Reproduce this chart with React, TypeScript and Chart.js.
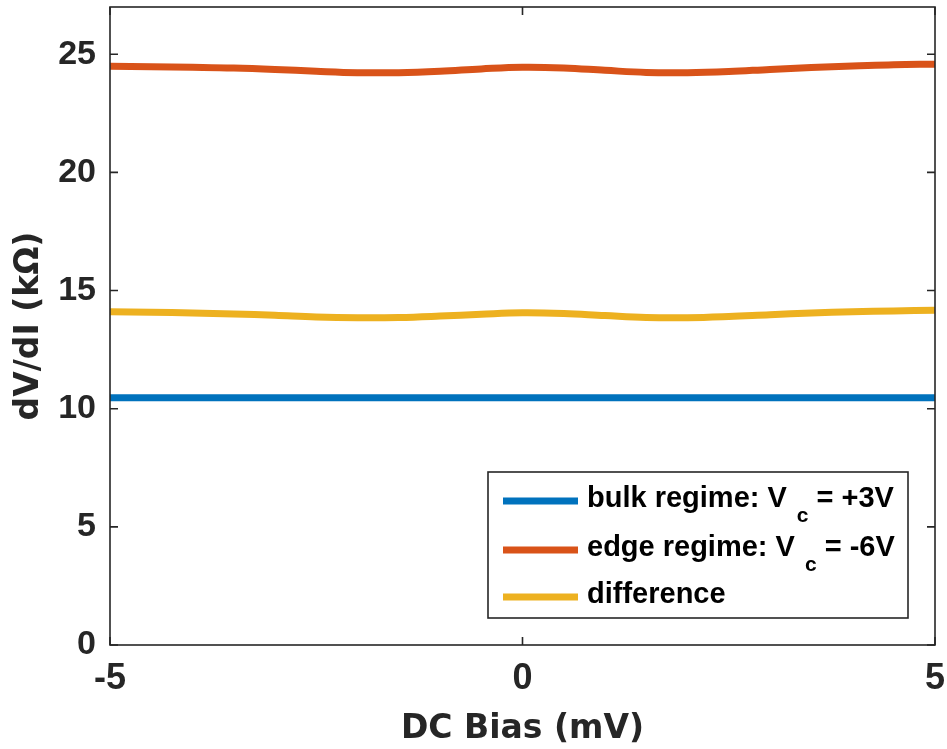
import React, { useEffect, useRef } from "react";
import { Chart, registerables } from "chart.js";

Chart.register(...registerables);

const biasMV = [-5, -4.5, -4, -3.5, -3, -2.5, -2, -1.5, -1, -0.5, 0, 0.5, 1, 1.5, 2, 2.5, 3, 3.5, 4, 4.5, 5];
const bulkK = [10.46, 10.46, 10.46, 10.46, 10.46, 10.46, 10.46, 10.46, 10.46, 10.46, 10.46, 10.46, 10.46, 10.46, 10.46, 10.46, 10.46, 10.46, 10.46, 10.46, 10.46];
const edgeK = [24.49, 24.47, 24.45, 24.42, 24.36, 24.28, 24.22, 24.22, 24.28, 24.38, 24.45, 24.42, 24.32, 24.23, 24.22, 24.27, 24.36, 24.44, 24.5, 24.56, 24.58];
const diffK = [14.1, 14.08, 14.05, 14.01, 13.95, 13.88, 13.85, 13.86, 13.92, 14.0, 14.06, 14.03, 13.94, 13.86, 13.85, 13.9, 13.98, 14.05, 14.1, 14.14, 14.17];

const seriesNames = ["bulk regime: V", "edge regime: V", "difference"];
const seriesSubs = ["c", "c", ""];
const seriesTails = [" = +3V", " = -6V", ""];
const seriesColors = ["#0072BD", "#D95319", "#EDB120"];

const xTicks = [-5, 0, 5];
const yTicks = [0, 5, 10, 15, 20, 25];

const AX = "#262626";
const TICK_FONT = "'Liberation Sans', Arial, sans-serif";
const TITLE_FONT = "'DejaVu Sans', 'Liberation Sans', sans-serif";

const zeroPad = (s: any) => {
  s.paddingTop = 0;
  s.paddingBottom = 0;
  s.paddingLeft = 0;
  s.paddingRight = 0;
};

const boxPlugin = {
  id: "matlabBox",
  afterDatasetsDraw(chart: any) {
    const { ctx, chartArea, scales } = chart;
    const { left, right, top, bottom } = chartArea;
    ctx.save();
    ctx.strokeStyle = AX;
    ctx.lineWidth = 1.6;
    ctx.strokeRect(left, top, right - left, bottom - top);
    const tl = 8;
    ctx.beginPath();
    for (const v of yTicks) {
      const y = scales.y.getPixelForValue(v);
      ctx.moveTo(left, y);
      ctx.lineTo(left + tl, y);
      ctx.moveTo(right, y);
      ctx.lineTo(right - tl, y);
    }
    for (const v of xTicks) {
      const x = scales.x.getPixelForValue(v);
      ctx.moveTo(x, bottom);
      ctx.lineTo(x, bottom - tl);
      ctx.moveTo(x, top);
      ctx.lineTo(x, top + tl);
    }
    ctx.stroke();

    // legend
    const bx = 488, by = 472, bw = 420, bh = 146;
    ctx.fillStyle = "#ffffff";
    ctx.fillRect(bx, by, bw, bh);
    ctx.strokeRect(bx, by, bw, bh);
    const rows = [501, 550, 597];
    chart.data.datasets.forEach((ds: any, i: number) => {
      const y = rows[i];
      ctx.strokeStyle = ds.borderColor;
      ctx.lineWidth = 7;
      ctx.beginPath();
      ctx.moveTo(503, y);
      ctx.lineTo(578, y);
      ctx.stroke();
      ctx.fillStyle = "#000";
      ctx.textBaseline = "alphabetic";
      ctx.textAlign = "left";
      ctx.font = `bold 29px ${TICK_FONT}`;
      const base = y + 6;
      let x = 587;
      ctx.fillText(seriesNames[i], x, base);
      x += ctx.measureText(seriesNames[i]).width;
      if (seriesSubs[i]) {
        ctx.font = `bold 21px ${TICK_FONT}`;
        x += 10;
        ctx.fillText(seriesSubs[i], x, base + 15);
        x += ctx.measureText(seriesSubs[i]).width;
        ctx.font = `bold 29px ${TICK_FONT}`;
        ctx.fillText(seriesTails[i], x, base);
      }
    });
    ctx.restore();
  },
};

export default function App() {
  const ref = useRef<HTMLCanvasElement>(null);
  useEffect(() => {
    const mk = (vals: number[]) => biasMV.map((x, i) => ({ x, y: vals[i] }));
    const chart = new Chart(ref.current!, {
      type: "line",
      data: {
        datasets: [
          { label: "bulk", data: mk(bulkK), borderColor: seriesColors[0] },
          { label: "edge", data: mk(edgeK), borderColor: seriesColors[1] },
          { label: "difference", data: mk(diffK), borderColor: seriesColors[2] },
        ].map((d) => ({ ...d, borderWidth: 7, pointRadius: 0, tension: 0.4, fill: false })),
      },
      options: {
        animation: false,
        responsive: false,
        maintainAspectRatio: false,
        layout: { padding: { top: 7, right: 12, left: 0, bottom: 0 } },
        plugins: { legend: { display: false }, tooltip: { enabled: false } },
        scales: {
          x: {
            type: "linear",
            min: -5,
            max: 5,
            afterBuildTicks: (s: any) => { s.ticks = xTicks.map((v) => ({ value: v })); },
            afterFit: (s: any) => { s.height = 104; zeroPad(s); },
            grid: { display: false, drawTicks: false },
            border: { display: false },
            ticks: { color: AX, padding: 12, font: { family: TICK_FONT, size: 36, weight: "bold" }, maxRotation: 0 },
            title: { display: true, text: "DC Bias (mV)", color: AX, padding: { top: 9, bottom: 0 }, font: { family: TITLE_FONT, size: 33, weight: "bold" } },
          },
          y: {
            type: "linear",
            min: 0,
            max: 27,
            afterBuildTicks: (s: any) => { s.ticks = yTicks.map((v) => ({ value: v })); },
            afterFit: (s: any) => { s.width = 110; zeroPad(s); },
            grid: { display: false, drawTicks: false },
            border: { display: false },
            ticks: { color: AX, padding: 14, font: { family: TICK_FONT, size: 34, weight: "bold" } },
            title: { display: true, text: "dV/dI (kΩ)", color: AX, padding: { top: 10, bottom: 0 }, font: { family: TITLE_FONT, size: 33, weight: "bold" } },
          },
        },
      },
      plugins: [boxPlugin],
    } as any);
    return () => chart.destroy();
  }, []);
  return (
    <div style={{ position: "absolute", left: 0, top: 0, width: 947, height: 749, background: "#fff" }}>
      <canvas ref={ref} width={947} height={749} style={{ display: "block" }} />
    </div>
  );
}
